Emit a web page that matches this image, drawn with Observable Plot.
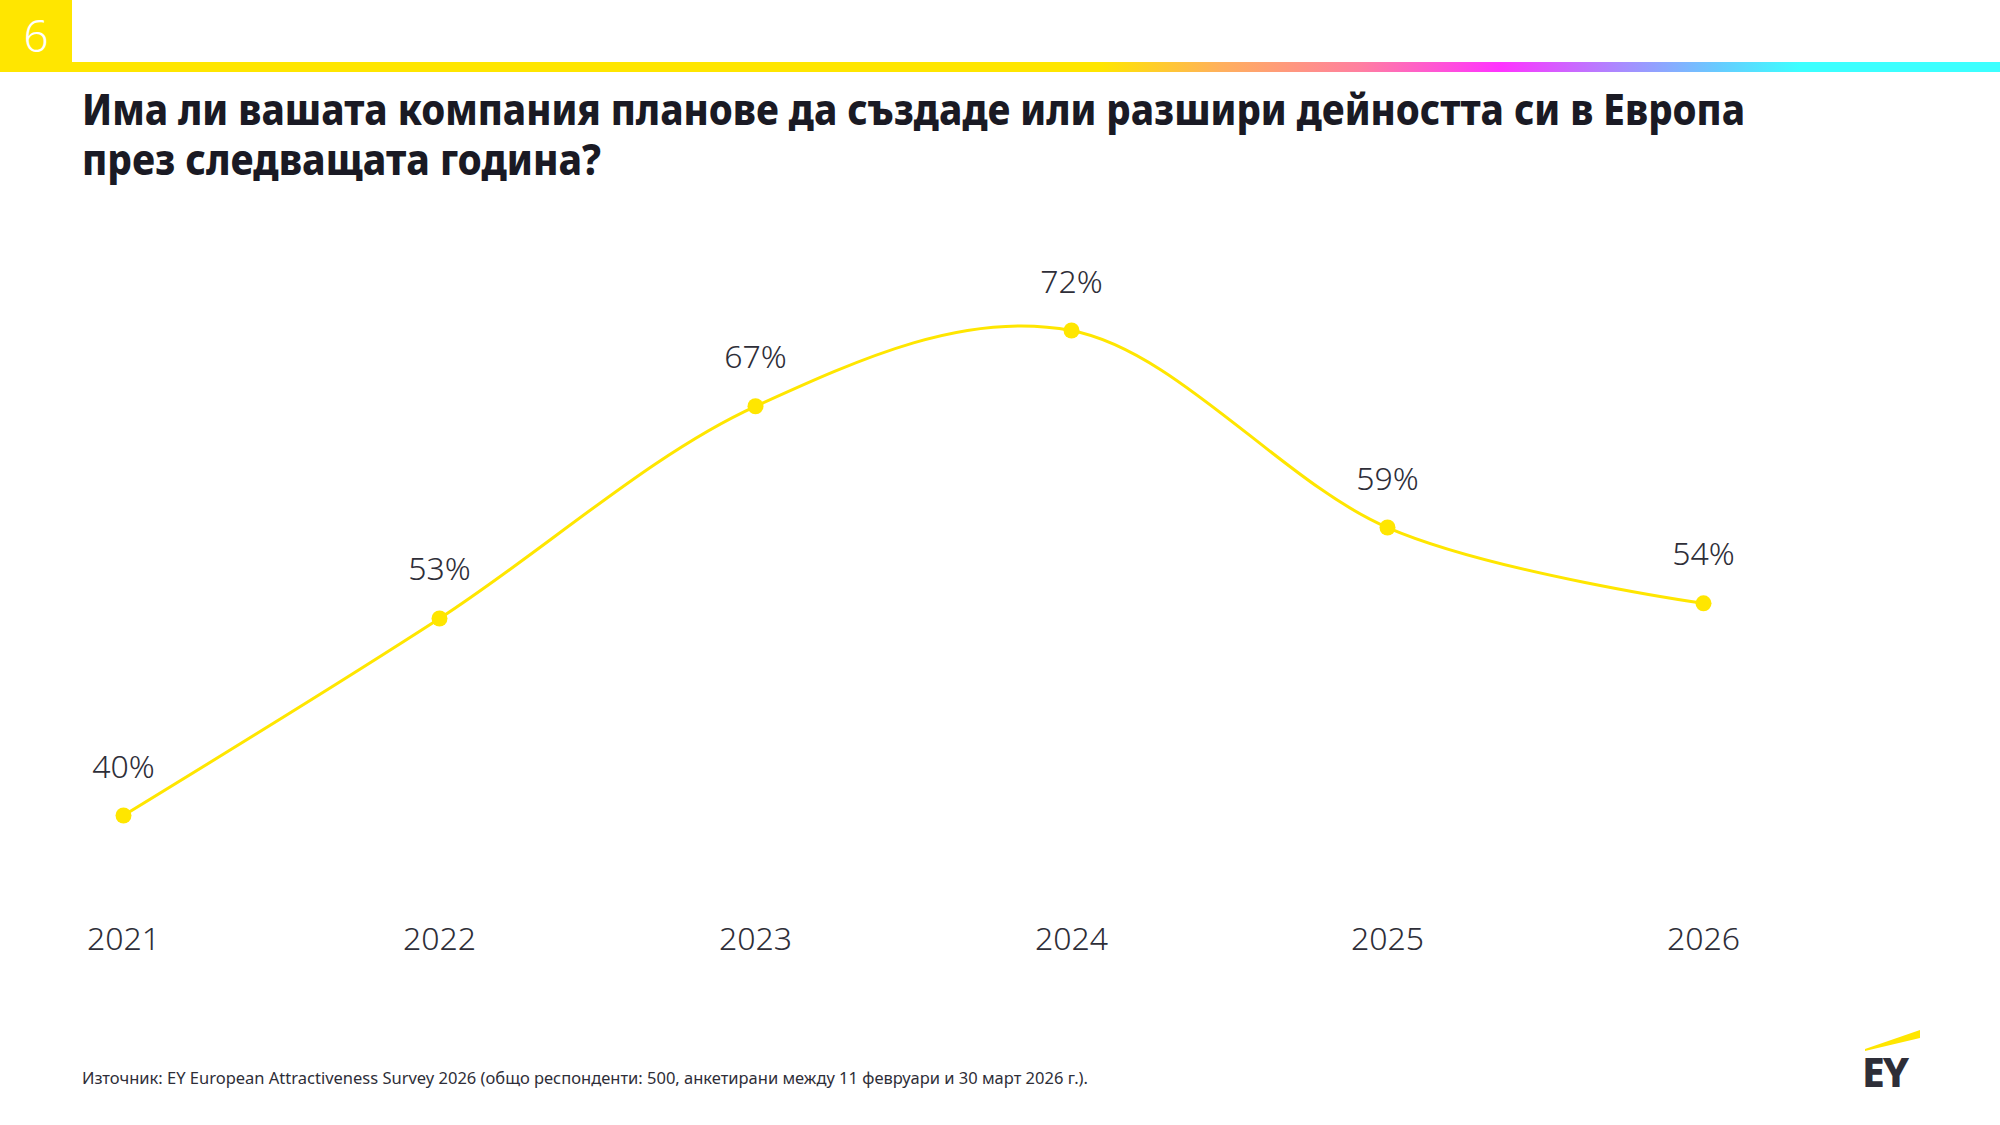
<!DOCTYPE html>
<html>
<head>
<meta charset="utf-8">
<script src="https://cdn.jsdelivr.net/npm/d3@7"></script>
<script src="https://cdn.jsdelivr.net/npm/@observablehq/plot@0.6"></script>
<style>
  html, body { margin: 0; padding: 0; }
  body { width: 2000px; height: 1125px; position: relative; background: #fff; overflow: hidden; font-family: "Noto Sans", sans-serif; color: #2e2e38; }
  #badge { position: absolute; left: 0; top: 0; width: 72px; height: 72px; background: #FFE600; }
  #badge span { position: absolute; left: 0; width: 72px; top: 13px; text-align: center; color: #fff; font-size: 44px; font-weight: 300; line-height: 44px; }
  #bar { position: absolute; left: 0; top: 62px; width: 2000px; height: 10px;
    background: linear-gradient(to right, #FFE600 0%, #FFE600 55%, #FFB05C 61%, #FF7FA0 68%, #FF33FF 75%, #A98AFF 81%, #66CCFF 86%, #3CFFFF 90%, #3CFFFF 100%); }
  .tline { position: absolute; left: 82px; font-size: 42px; font-weight: 800; line-height: 50px; height: 50px; color: #1a1a24; white-space: nowrap; transform-origin: 0 0; }
  #t1 { top: 84px; }
  #t2 { top: 134px; }
  #chart { position: absolute; left: 0; top: 200px; }
  #footer { position: absolute; left: 82px; top: 1068px; font-size: 16px; line-height: 20px; white-space: nowrap; color: #2e2e38; transform-origin: 0 0; }
  #logo { position: absolute; left: 1840px; top: 1020px; }
</style>
</head>
<body>
<div id="badge"><span>6</span></div>
<div id="bar"></div>
<div class="tline" id="t1">Има ли вашата компания планове да създаде или разшири дейността си в Европа</div>
<div class="tline" id="t2">през следващата година?</div>
<div id="chart"></div>
<div id="footer">Източник: EY European Attractiveness Survey 2026 (общо респонденти: 500, анкетирани между 11 февруари и 30 март 2026 г.).</div>
<svg id="logo" width="100" height="80" viewBox="0 0 100 80">
  <polygon points="25,29 80,10 80,18 25,31" fill="#FFE600"></polygon>
  <text x="22" y="67" font-family="Noto Sans" font-weight="800" font-size="41" fill="#2e2e38" letter-spacing="-2">EY</text>
</svg>
<script>
const years = ["2021", "2022", "2023", "2024", "2025", "2026"];
const values = [40, 53, 67, 72, 59, 54];
const labels = ["40%", "53%", "67%", "72%", "59%", "54%"];

const data = years.map((y, i) => ({year: y, value: values[i], label: labels[i]}));

const chart = Plot.plot({
  width: 2000,
  height: 780,
  marginLeft: 122,
  marginRight: 296,
  marginTop: 130,
  marginBottom: 165,
  style: {fontFamily: "Noto Sans", color: "#2e2e38", background: "transparent"},
  x: {type: "point", domain: years, padding: 0, label: null},
  y: {domain: [40, 72], axis: null},
  marks: [
    Plot.axisX({tickSize: 0, tickPadding: 112, fontSize: 32, fontWeight: 300, fill: "#2e2e38", label: null}),
    Plot.line(data, {x: "year", y: "value", stroke: "#FFE600", strokeWidth: 3, curve: "cardinal"}),
    Plot.dot(data, {x: "year", y: "value", r: 8, fill: "#FFE600"}),
    Plot.text(data, {x: "year", y: "value", text: "label", dy: -38, lineAnchor: "bottom", fontSize: 32, fontWeight: 300, fill: "#2e2e38"})
  ]
});
document.getElementById("chart").appendChild(chart);

function fit(id, target) {
  const el = document.getElementById(id);
  const w = el.getBoundingClientRect().width;
  el.style.transform = `scaleX(${target / w})`;
}
fit("footer", 1006);
fit("t1", 1663);
fit("t2", 519);
</script>
</body>
</html>
